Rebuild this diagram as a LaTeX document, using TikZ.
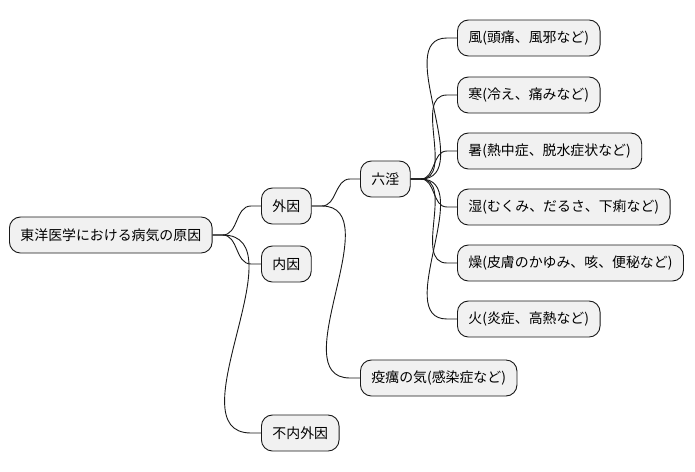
\documentclass[tikz,border=0pt]{standalone}
\usepackage{fontspec}
\setmainfont{Noto Sans CJK JP}
\usetikzlibrary{calc}

\definecolor{boxfill}{HTML}{F1F1F1}
\definecolor{boxline}{HTML}{181818}

\tikzset{
  topic/.style={draw=boxline, fill=boxfill, rounded corners=11pt, anchor=west,
    minimum height=36pt, inner xsep=11pt, line width=0.9pt,
    font=\fontsize{13.9}{16}\selectfont},
  link/.style={draw=boxline, line width=0.9pt},
}

\begin{document}
\begin{tikzpicture}[x=1pt, y=-1pt]
    \useasboundingbox (0,0) rectangle (695,471);
    % root and first level
    \node[topic] (root) at (9,235) {東洋医学における病気の原因};
    \node[topic] (gaiin) at (261,206) {外因};
    \node[topic] (naiin) at (261,264) {内因};
    \node[topic] (funaigaiin) at (261,433) {不内外因};
    % second level
    \node[topic] (rokuin) at (360,179) {六淫};
    \node[topic] (ekirei) at (360,378) {疫癘の気(感染症など)};
    % six evils
    \node[topic] (fu) at (457,38) {風(頭痛、風邪など)};
    \node[topic] (kan) at (457,95) {寒(冷え、痛みなど)};
    \node[topic] (sho) at (457,151) {暑(熱中症、脱水症状など)};
    \node[topic] (shitsu) at (457,207) {湿(むくみ、だるさ、下痢など)};
    \node[topic] (so) at (457,263) {燥(皮膚のかゆみ、咳、便秘など)};
    \node[topic] (ka) at (457,319) {火(炎症、高熱など)};

    \foreach \a/\b in {root/gaiin, root/naiin, root/funaigaiin,
                       gaiin/rokuin, gaiin/ekirei,
                       rokuin/fu, rokuin/kan, rokuin/sho,
                       rokuin/shitsu, rokuin/so, rokuin/ka}
        \draw[link] (\a.east) -- ++(10,0) to[out=0, in=180]
            ($(\b.west)+(-10,0)$) -- (\b.west);
\end{tikzpicture}
\end{document}
